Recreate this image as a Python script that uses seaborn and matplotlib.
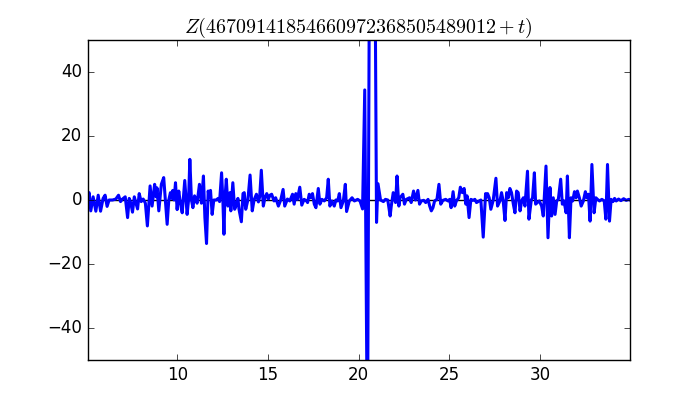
import matplotlib
matplotlib.use("Agg")
import matplotlib.pyplot as plt
import seaborn as sns
import pandas as pd

# t offsets (x) and values of Z(T + t)
t_vals = [
    5.05, 5.14, 5.23, 5.36, 5.51, 5.64, 5.77, 5.91, 6.02, 6.13, 6.24, 6.43, 6.61, 6.76, 6.87, 6.98,
    7.13, 7.26, 7.35, 7.44, 7.53, 7.63, 7.72, 7.81, 7.90, 8.01, 8.12, 8.24, 8.35, 8.50, 8.61, 8.75,
    8.83, 8.88, 8.98, 9.12, 9.25, 9.34, 9.44, 9.53, 9.62, 9.68, 9.75, 9.82, 9.90, 9.99, 10.08, 10.17,
    10.27, 10.41, 10.54, 10.62, 10.69, 10.78, 10.86, 10.95, 11.02, 11.09, 11.22, 11.33, 11.44, 11.52,
    11.61, 11.70, 11.77, 11.83, 11.92, 12.01, 12.14, 12.25, 12.33, 12.44, 12.51, 12.57, 12.62, 12.70,
    12.79, 12.90, 12.95, 13.06, 13.16, 13.27, 13.34, 13.40, 13.53, 13.62, 13.69, 13.77, 13.89, 14.01,
    14.13, 14.23, 14.36, 14.47, 14.54, 14.63, 14.74, 14.83, 14.93, 15.02, 15.11, 15.20, 15.33, 15.42,
    15.57, 15.70, 15.83, 15.92, 16.07, 16.20, 16.35, 16.44, 16.53, 16.62, 16.75, 16.86, 16.99, 17.12,
    17.18, 17.27, 17.36, 17.45, 17.55, 17.64, 17.77, 17.86, 17.97, 18.10, 18.23, 18.32, 18.41, 18.52,
    18.65, 18.74, 18.84, 18.93, 19.02, 19.15, 19.26, 19.33, 19.48, 19.63, 19.76, 19.94, 20.07, 20.21,
    20.33, 20.48, 20.62, 20.75, 20.86, 20.98, 21.06, 21.20, 21.36, 21.47, 21.60, 21.73, 21.79, 21.90,
    22.03, 22.11, 22.21, 22.28, 22.43, 22.52, 22.62, 22.80, 22.89, 23.02, 23.13, 23.26, 23.35, 23.45,
    23.58, 23.69, 23.82, 23.91, 24.00, 24.09, 24.18, 24.31, 24.42, 24.52, 24.64, 24.79, 24.92, 25.01,
    25.09, 25.20, 25.29, 25.38, 25.51, 25.60, 25.71, 25.81, 25.90, 25.97, 26.08, 26.18, 26.30, 26.40,
    26.49, 26.64, 26.73, 26.86, 26.99, 27.04, 27.10, 27.19, 27.28, 27.41, 27.56, 27.65, 27.78, 27.87,
    27.96, 28.06, 28.15, 28.24, 28.33, 28.42, 28.52, 28.61, 28.70, 28.79, 28.89, 28.98, 29.07, 29.16,
    29.30, 29.38, 29.51, 29.58, 29.68, 29.75, 29.84, 29.95, 30.08, 30.17, 30.32, 30.43, 30.54, 30.63,
    30.72, 30.82, 30.91, 31.00, 31.13, 31.22, 31.31, 31.43, 31.50, 31.61, 31.70, 31.79, 31.89, 31.98,
    32.05, 32.16, 32.26, 32.38, 32.49, 32.57, 32.66, 32.75, 32.85, 32.97, 33.07, 33.16, 33.27, 33.40,
    33.53, 33.62, 33.71, 33.82, 33.91, 34.01, 34.10, 34.19, 34.32, 34.45, 34.60, 34.74, 34.89, 34.95,
]
z_vals = [
    0.0, 2.3, -3.4, 1.0, -3.5, 1.5, -3.5, 0.5, 1.5, -2.0, 0.0, 0.0, 0.3, 1.5, -0.5, 0.3,
    1.0, -5.5, 0.5, -1.0, -3.8, 1.0, -1.0, -2.8, 2.0, -0.5, 0.3, -1.0, -8.1, 4.4, -1.9, 4.9,
    1.0, 3.8, -3.4, 4.9, 7.0, 0.0, -7.6, 0.0, 2.3, 0.5, 3.0, 0.0, 5.4, -3.0, 2.8, -1.0,
    -4.0, 6.1, -4.5, 0.0, 12.7, 0.0, -2.4, 1.3, 0.0, -1.0, 4.9, -1.0, 7.5, -5.5,
    -13.6, 2.8, 1.0, 3.0, -4.5, 0.0, 0.0, 0.5, -0.5, 8.5, 0.0, -10.7, 0.0, 6.5,
    -1.9, 2.3, -3.4, 5.4, -2.9, -1.3, 0.5, -2.9, -6.8, 2.0, 2.3, -2.9, 0.0, 7.8,
    -3.4, 0.0, 1.8, -0.6, 1.0, 9.3, -1.9, 0.7, 2.0, 0.3, 1.5, 1.8, -0.3, 0.7,
    -1.9, 0.0, 3.3, -1.9, 0.3, -0.3, 1.8, -1.3, 2.0, 0.2, 4.0, -1.6, 0.2, -0.3,
    -0.8, 1.8, 0.7, 2.0, -1.3, -2.4, 3.6, -1.3, 0.2, -0.3, 0.7, 6.5, -1.9, -0.3,
    -1.9, 0.0, -0.3, 2.0, -2.4, -0.3, 4.9, -3.6, -0.3, 0.7, -0.3, 0.2, -0.3, -2.8,
    34.4, -80.0, 120.0, 140.0, 110.0, -7.0, 5.1, 0.0, -0.5, 0.2, 0.0, -5.0, -2.0, 2.3,
    -0.8, 7.5, -1.9, 0.7, 1.8, -1.3, 0.2, 0.7, -0.8, 2.8, 0.0, 3.0, -1.3, -0.3,
    -0.1, -0.8, 0.2, -1.9, -3.4, -2.4, -0.3, 0.2, 4.9, -1.3, -0.1, 0.2, -0.3, 0.2,
    -2.4, 2.6, -1.9, -0.3, 0.7, 4.0, 2.3, 3.6, -1.3, 1.3, -5.5, 0.2, -0.1, 0.2,
    -0.8, -0.3, 0.0, -11.6, 2.0, 0.8, 2.0, 0.7, -2.9, -0.1, 6.8, -1.9, -0.3, 2.3,
    -0.3, -6.4, 2.3, 0.7, 3.6, 2.3, -1.3, -4.0, 2.8, 2.3, -3.4, -0.3, 0.7, -1.9,
    9.0, -6.0, 0.0, 0.7, 8.5, -1.3, -0.8, -0.3, -1.9, -5.0, 10.6, -11.8, 3.9, -5.0,
    0.7, -4.5, -0.3, 0.2, 6.5, -1.3, -0.3, -4.0, 7.5, -11.8, 0.7, -0.3, 2.6, 0.7,
    2.8, 0.7, -1.9, -0.3, 2.6, 0.7, 1.8, -6.6, 11.1, -4.0, 0.7, 0.2, -0.3, 0.2,
    -0.3, -6.0, 11.1, -6.6, 0.2, -0.5, 0.5, -0.3, 0.3, -0.2, 0.4, -0.1, 0.2, 0.0,
]
x_ticks = [10, 15, 20, 25, 30]
y_ticks = [-40, -20, 0, 20, 40]
title = r"$Z(46709141854660972368505489012+t)$"

df = pd.DataFrame({"t": t_vals, "Z": z_vals})

plt.style.use("classic")
fig, ax = plt.subplots(figsize=(7, 4), dpi=100)
ax.axhline(0, color="k", lw=1, zorder=1)
sns.lineplot(data=df, x="t", y="Z", color="b", linewidth=2.2, ax=ax,
             estimator=None, sort=True, zorder=2)
ax.set_xlim(min(t_vals), max(t_vals))
ax.set_ylim(-50, 50)
ax.set_xticks(x_ticks)
ax.set_yticks(y_ticks)
ax.set_xlabel("")
ax.set_ylabel("")
ax.set_title(title)
fig.savefig("out.png", dpi=100, facecolor="white")
